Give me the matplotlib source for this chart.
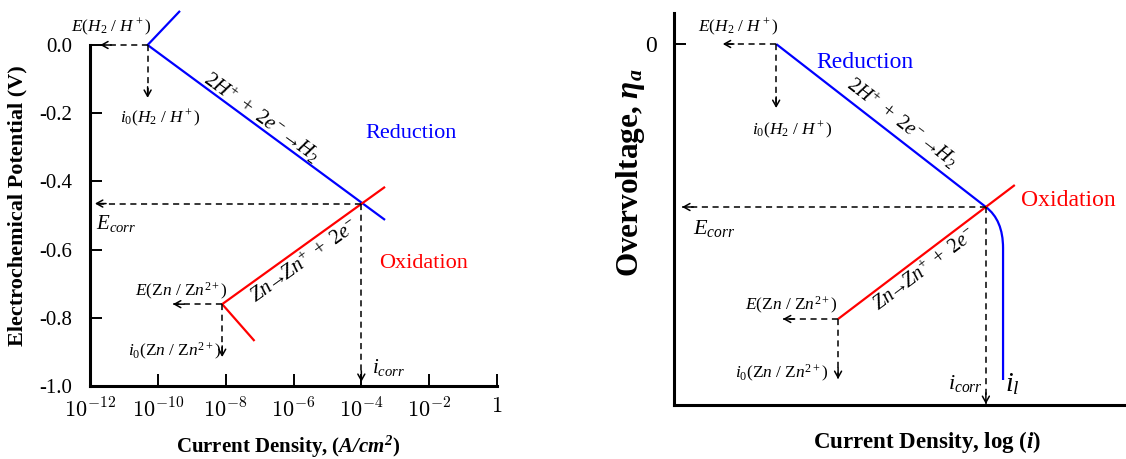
import matplotlib
matplotlib.use("Agg")
import matplotlib.pyplot as plt
from matplotlib.path import Path
from matplotlib.patches import PathPatch

# ---------------- data: left panel (Evans diagram, log current) ----------------
left_xticks = [1e-12, 1e-10, 1e-8, 1e-6, 1e-4, 1e-2, 1]
left_xticklabels = [r'$10^{-12}$', r'$10^{-10}$', r'$10^{-8}$', r'$10^{-6}$',
                    r'$10^{-4}$', r'$10^{-2}$', r'$1$']
left_yticks = [0.0, -0.2, -0.4, -0.6, -0.8, -1.0]
left_yticklabels = ['0.0', '-0.2', '-0.4', '-0.6', '-0.8', '-1.0']

E_H, i0_H = 0.0, 5.0e-11
E_Zn, i0_Zn = -0.76, 7.9e-9
E_corr, i_corr = -0.465, 1.0e-4

blue_x = [4.5e-10, i0_H, 5.0e-4]          # H2 line (anodic stub, i0, cathodic end)
blue_y = [0.10, E_H, -0.513]
red_x = [7.1e-8, i0_Zn, 5.0e-4]           # Zn line
red_y = [-0.868, E_Zn, -0.416]

# dashed guide arrow ends
H_arrow_left, H_arrow_down = 2.0e-12, -0.155
corr_arrow_left, corr_arrow_down = 1.4e-12, -0.988
Zn_arrow_left, Zn_arrow_down = 2.8e-10, -0.915

# ---------------- data: right panel (schematic with limiting current) ----------
r_blue_x = [2.26, 6.90]
r_blue_y = [0.0, -1.63]
r_curve_x = [7.28, 7.28]        # bezier control / end
r_curve_y = [-1.76, -2.04]
r_il_x, r_il_y = 7.28, -3.36
r_red_x = [3.63, 7.54]
r_red_y = [-2.75, -1.41]
r_E_H_left, r_i0H_down = 1.08, -0.64
r_Ecorr_left, r_icorr_down = 0.18, -3.60
r_Zn_left, r_Zn_down = 2.41, -3.35

# ---------------- style ----------------
plt.rcParams['font.family'] = ['Liberation Serif', 'DejaVu Serif']
plt.rcParams['mathtext.fontset'] = 'custom'
plt.rcParams['mathtext.rm'] = 'Liberation Serif'
plt.rcParams['mathtext.it'] = 'Liberation Serif:italic'
plt.rcParams['mathtext.bf'] = 'Liberation Serif:bold:italic'

W, H = 1126, 459
fig = plt.figure(figsize=(W / 100, H / 100), dpi=100)

def px_rect(x0, y0, x1, y1):
    return [x0 / W, 1 - y1 / H, (x1 - x0) / W, (y1 - y0) / H]

def ftext(px, py, s, **kw):
    kw.setdefault('ha', 'center')
    kw.setdefault('va', 'center')
    fig.text(px / W, 1 - py / H, s, **kw)

BLUE, RED = '#0000ff', '#ff0000'
LW_CURVE = 1.6
DASH = dict(color='k', lw=1.1, ls=(0, (4, 3)), clip_on=False)
HEAD = dict(arrowstyle='->,head_length=0.45,head_width=0.25', color='k', lw=1.1,
            shrinkA=0, shrinkB=0)
SMALL = 12.5
H_REACT = r'$2H^{+}\ +\ 2e^{-}\ \!\!\rightarrow\!\! H_2$'
ZN_REACT = r'$Zn\!\!\rightarrow\!\! Zn^{+}\ +\ 2e^{-}$'

def dashed_arrow(ax, x0, y0, x1, y1, off):
    ax.plot([x0, x1], [y0, y1], **DASH)
    ax.annotate('', xy=(x1, y1), xytext=off, textcoords='offset points',
                arrowprops=HEAD, annotation_clip=False)

# ================= left panel =================
ax = fig.add_axes(px_rect(90, 45, 497, 386))
ax.set_xscale('log')
ax.set_xlim(1e-12, 1)
ax.set_ylim(-1.0, 0.0)
for s in ['top', 'right']:
    ax.spines[s].set_visible(False)
for s in ['left', 'bottom']:
    ax.spines[s].set_linewidth(2.2)
ax.set_xticks(left_xticks, labels=left_xticklabels)
ax.minorticks_off()
ax.set_yticks(left_yticks, labels=left_yticklabels)
ax.tick_params(axis='both', direction='in', length=8.5, width=1.4, labelsize=15)
ax.tick_params(axis='y', pad=13)
ax.tick_params(axis='x', pad=9)
for lab in ax.get_xticklabels():
    lab.set_math_fontfamily('cm')
    lab.set_fontsize(16)

ax.plot(blue_x, blue_y, color=BLUE, lw=LW_CURVE, clip_on=False, solid_capstyle='butt')
ax.plot(red_x, red_y, color=RED, lw=LW_CURVE, clip_on=False, solid_capstyle='butt')

dashed_arrow(ax, i0_H, E_H, H_arrow_left, E_H, (8, 0))
dashed_arrow(ax, i0_H, E_H, i0_H, H_arrow_down, (0, 8))
dashed_arrow(ax, i_corr, E_corr, corr_arrow_left, E_corr, (8, 0))
dashed_arrow(ax, i_corr, E_corr, i_corr, corr_arrow_down, (0, 8))
dashed_arrow(ax, i0_Zn, E_Zn, Zn_arrow_left, E_Zn, (8, 0))
dashed_arrow(ax, i0_Zn, E_Zn, i0_Zn, Zn_arrow_down, (0, 8))

ax.set_ylabel('Electrochemical Potential (V)', fontsize=16, fontweight='bold', va='center')
ax.yaxis.set_label_coords(-0.177, 0.528)
ax.set_xlabel(r'Current Density, ($\mathbf{A/cm^2}$)', fontsize=15, fontweight='bold', va='center')
ax.xaxis.set_label_coords(0.486, -0.179)

ftext(111, 27, r'$E(H_2\ /\ H^+)$', fontsize=SMALL)
ftext(160, 118, r'$i_0(H_2\ /\ H^+)$', fontsize=SMALL)
ftext(262, 117, H_REACT, fontsize=15, rotation=-36, rotation_mode='anchor')
ftext(411, 133, 'Reduction', fontsize=16, color=BLUE)
ftext(96, 223, r'$E_{corr}$', fontsize=15, ha='left')
ftext(305, 262, ZN_REACT, fontsize=15, rotation=35.7, rotation_mode='anchor')
ftext(424, 263, 'Oxidation', fontsize=16, color=RED)
ftext(181, 291, r'$E(\mathrm{Z}n\ /\ \mathrm{Z}n^{2+})$', fontsize=SMALL)
ftext(175, 351, r'$i_0(\mathrm{Z}n\ /\ \mathrm{Z}n^{2+})$', fontsize=SMALL)
ftext(372, 367, r'$i_{corr}$', fontsize=15, ha='left')

# ================= right panel =================
ax2 = fig.add_axes(px_rect(674, 13, 1126, 405))
ax2.set_xlim(0, 10)
ax2.set_ylim(-3.61, 0.31)
for s in ['top', 'right']:
    ax2.spines[s].set_visible(False)
for s in ['left', 'bottom']:
    ax2.spines[s].set_linewidth(2.2)
ax2.set_xticks([])
ax2.set_yticks([0.0], labels=['0'])
ax2.tick_params(axis='y', direction='in', length=8.5, width=1.4, labelsize=17, pad=12)

path = Path([(r_blue_x[0], r_blue_y[0]), (r_blue_x[1], r_blue_y[1]),
             (r_curve_x[0], r_curve_y[0]), (r_curve_x[1], r_curve_y[1]),
             (r_il_x, r_il_y)],
            [Path.MOVETO, Path.LINETO, Path.CURVE3, Path.CURVE3, Path.LINETO])
ax2.add_patch(PathPatch(path, fill=False, edgecolor=BLUE, lw=LW_CURVE, capstyle='butt'))
ax2.plot(r_red_x, r_red_y, color=RED, lw=LW_CURVE, solid_capstyle='butt')

dashed_arrow(ax2, r_blue_x[0], r_blue_y[0], r_E_H_left, r_blue_y[0], (8, 0))
dashed_arrow(ax2, r_blue_x[0], r_blue_y[0], r_blue_x[0], r_i0H_down, (0, 8))
dashed_arrow(ax2, r_blue_x[1], r_blue_y[1], r_Ecorr_left, r_blue_y[1], (8, 0))
dashed_arrow(ax2, r_blue_x[1], r_blue_y[1], r_blue_x[1], r_icorr_down, (0, 8))
dashed_arrow(ax2, r_red_x[0], r_red_y[0], r_Zn_left, r_red_y[0], (8, 0))
dashed_arrow(ax2, r_red_x[0], r_red_y[0], r_red_x[0], r_Zn_down, (0, 8))

ax2.set_ylabel(r'Overvoltage, $\mathbf{\eta_a}$', fontsize=22.5, fontweight='bold', va='center')
ax2.yaxis.set_label_coords(-0.097, 0.593)
ax2.set_xlabel(r'Current Density, log ($\mathbf{i}$)', fontsize=16.5, fontweight='bold', va='center')
ax2.xaxis.set_label_coords(0.56, -0.094)

ftext(738, 27, r'$E(H_2\ /\ H^+)$', fontsize=SMALL)
ftext(865, 62, 'Reduction', fontsize=17, color=BLUE)
ftext(902, 122, H_REACT, fontsize=14.5, rotation=-37.5, rotation_mode='anchor')
ftext(792, 130, r'$i_0(H_2\ /\ H^+)$', fontsize=SMALL)
ftext(1068, 200, 'Oxidation', fontsize=17, color=RED)
ftext(693, 229, r'$E_{corr}$', fontsize=16, ha='left')
ftext(925, 270, ZN_REACT, fontsize=14.5, rotation=37, rotation_mode='anchor')
ftext(791, 305, r'$E(\mathrm{Z}n\ /\ \mathrm{Z}n^{2+})$', fontsize=SMALL)
ftext(782, 373, r'$i_0(\mathrm{Z}n\ /\ \mathrm{Z}n^{2+})$', fontsize=SMALL)
ftext(983, 384, r'$i_{corr}$', fontsize=16, ha='right')
ftext(1005, 384, r'$i_l$', fontsize=20, ha='left')

fig.savefig('out.png', dpi=100)
